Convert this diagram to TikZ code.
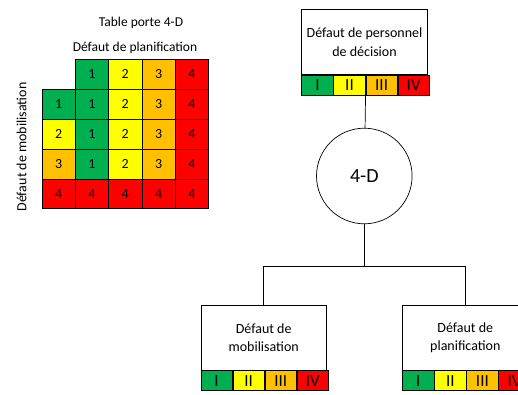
\documentclass[tikz,border=0pt]{standalone}
\usepackage{fontspec}
\setmainfont{Carlito}
\usetikzlibrary{positioning}
\definecolor{c1}{HTML}{00B050}
\definecolor{c2}{HTML}{FFFF00}
\definecolor{c3}{HTML}{FFC000}
\definecolor{c4}{HTML}{FF0000}
\tikzstyle{cell} = [draw, minimum width=33.3pt, minimum height=29.9pt, inner sep=0pt, font=\fontsize{14}{16}\selectfont]
\tikzstyle{box} = [draw, minimum width=125.6pt, minimum height=65pt, align=center, font=\fontsize{14}{18.4}\selectfont]
\tikzstyle{band} = [draw, minimum width=31.4pt, minimum height=19.7pt, inner sep=0pt, font=\fontsize{17}{18}\selectfont]
\tikzstyle{lbl} = [inner sep=0pt, font=\fontsize{13.5}{16}\selectfont]

\begin{document}
\begin{tikzpicture}[x=1pt, y=-1pt, line width=0.7pt]
    \useasboundingbox (0,0) rectangle (518,394);

    % Table porte
    \foreach \row [count=\r from 0] in {{0,1,2,3,4},{1,1,2,3,4},{2,1,2,3,4},{3,1,2,3,4},{4,4,4,4,4}} {
        \foreach \v [count=\c from 0] in \row {
            \ifnum\v>0
                \node[cell, fill=c\v] (t-\r-\c) at ({58.65+33.3*\c}, {74.25+29.9*\r}) {\v};
            \fi
        }
    }
    \node[lbl] (title) at (141,23) {Table porte 4-D};
    \node[lbl] (plantitle) at (135,47.5) {Défaut de planification};
    \node[lbl, rotate=90, font=\fontsize{14}{16}\selectfont] (mobtitle) at (21.5,147) {Défaut de mobilisation};

    % Boxes with bands
    \foreach \name/\x/\y/\txt in {pers/364.5/42.3/{Défaut de personnel\\de décision},
                                 mob/263.7/337.5/{Défaut de\\mobilisation},
                                 plan/465.3/337.5/{Défaut de\\planification}} {
        \node[box] (\name) at (\x,\y) {\txt};
        \node[band, fill=c1, below right=0pt and 0pt of \name.south west] (\name-1) {I};
        \node[band, fill=c2, right=0pt of \name-1] (\name-2) {II};
        \node[band, fill=c3, right=0pt of \name-2] (\name-3) {III};
        \node[band, fill=c4, right=0pt of \name-3] (\name-4) {IV};
    }

    \node[draw, circle, minimum size=95.6pt, font=\fontsize{20}{22}\selectfont] (dd) at (364.3,176) {4-D};
    \coordinate (fork) at (364.3,266.7);

    % Connectors
    \draw (pers-2.south east) -- (dd);
    \draw (dd) -- (fork);
    \draw (mob.north) |- (fork) -| (plan.north);

\end{tikzpicture}
\end{document}
